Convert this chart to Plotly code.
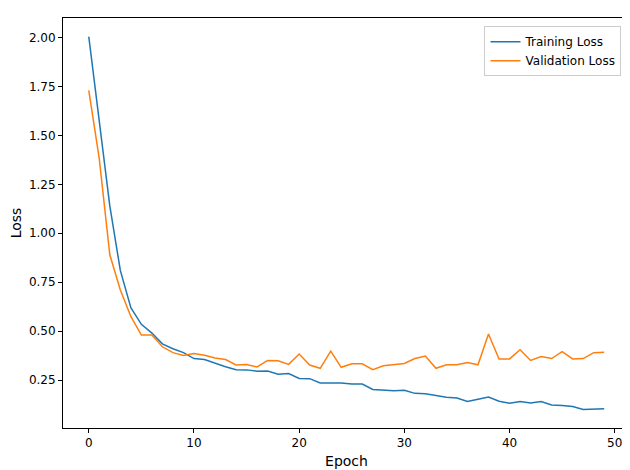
import plotly.graph_objects as go

epochs = list(range(50))
train_loss = [2.005, 1.58, 1.14, 0.81, 0.62, 0.535, 0.49, 0.435, 0.41, 0.39,
              0.36, 0.355, 0.335, 0.318, 0.303, 0.302, 0.295, 0.296, 0.28, 0.283,
              0.258, 0.257, 0.235, 0.236, 0.235, 0.23, 0.23, 0.202, 0.198, 0.195,
              0.198, 0.182, 0.18, 0.17, 0.162, 0.158, 0.14, 0.152, 0.163, 0.142,
              0.132, 0.14, 0.133, 0.14, 0.123, 0.12, 0.115, 0.1, 0.101, 0.104]
val_loss = [1.73, 1.38, 0.89, 0.71, 0.575, 0.48, 0.48, 0.42, 0.39, 0.375,
            0.385, 0.377, 0.363, 0.355, 0.327, 0.33, 0.317, 0.35, 0.348, 0.33,
            0.383, 0.327, 0.31, 0.398, 0.315, 0.333, 0.333, 0.303, 0.323, 0.33,
            0.335, 0.36, 0.373, 0.31, 0.328, 0.328, 0.34, 0.328, 0.485, 0.358,
            0.358, 0.405, 0.35, 0.37, 0.36, 0.395, 0.358, 0.36, 0.39, 0.392]

fig = go.Figure()
fig.add_trace(go.Scatter(x=epochs, y=train_loss, mode='lines', name='Training Loss',
                         line=dict(color='#1f77b4', width=1.5)))
fig.add_trace(go.Scatter(x=epochs, y=val_loss, mode='lines', name='Validation Loss',
                         line=dict(color='#ff7f0e', width=1.5)))

axis_style = dict(showgrid=False, zeroline=False, showline=True, mirror=True,
                  linecolor='black', linewidth=1, ticks='outside', ticklen=4,
                  tickcolor='black', tickfont=dict(size=12, color='black'),
                  automargin=False)

fig.update_layout(
    width=630, height=470,
    plot_bgcolor='white', paper_bgcolor='white',
    font=dict(family='DejaVu Sans', size=12, color='black'),
    margin=dict(l=55, r=8, t=10, b=50),
    xaxis=dict(title=dict(text='Epoch', standoff=6), range=[-2.45, 51.45],
               tickvals=[0, 10, 20, 30, 40, 50], **axis_style),
    yaxis=dict(title=dict(text='Loss', standoff=6), range=[0.005, 2.1],
               tickvals=[0.25, 0.5, 0.75, 1.0, 1.25, 1.5, 1.75, 2.0],
               tickformat='.2f', **axis_style),
    legend=dict(x=0.985, y=0.98, xanchor='right', yanchor='top',
                bordercolor='#cccccc', borderwidth=1, bgcolor='white',
                font=dict(size=12)),
)

fig.write_html("out.html")
